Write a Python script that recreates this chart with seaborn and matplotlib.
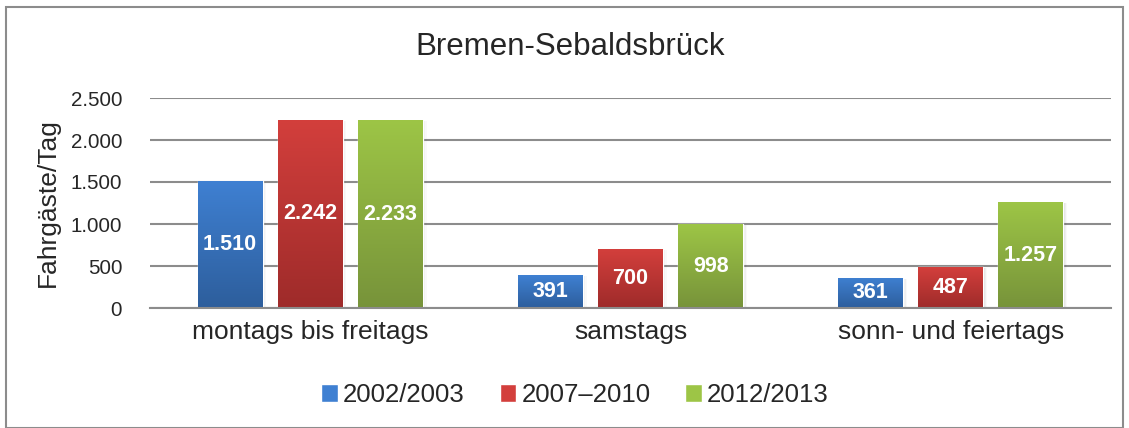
import matplotlib
matplotlib.use("Agg")
import matplotlib.pyplot as plt
import seaborn as sns
import pandas as pd
import numpy as np
from matplotlib.colors import LinearSegmentedColormap
from matplotlib.patches import Rectangle

categories = ["montags bis freitags", "samstags", "sonn- und feiertags"]
series = ["2002/2003", "2007–2010", "2012/2013"]
v2002 = [1510, 391, 361]
v2007 = [2242, 700, 487]
v2012 = [2233, 998, 1257]
value_labels = [["1.510", "391", "361"], ["2.242", "700", "487"], ["2.233", "998", "1.257"]]
yticks = [0, 500, 1000, 1500, 2000, 2500]
ytick_labels = ["0", "500", "1.000", "1.500", "2.000", "2.500"]

top_colors = ["#3f80d2", "#d33f3c", "#9dc546"]
bot_colors = ["#2d5e9c", "#9e2b2a", "#77933a"]

sns.set_style("white")
plt.rcParams["font.family"] = ["Liberation Sans", "DejaVu Sans"]

rows = []
for s, vals in zip(series, [v2002, v2007, v2012]):
    for c, v in zip(categories, vals):
        rows.append({"cat": c, "series": s, "value": v})
df = pd.DataFrame(rows)

fig = plt.figure(figsize=(11.29, 4.28), dpi=100)
ax = fig.add_axes([150 / 1129, 1 - 308 / 428, 961 / 1129, 210 / 428])

sns.barplot(data=df, x="cat", y="value", hue="series", order=categories,
            hue_order=series, palette=top_colors, width=0.75, gap=0.19, ax=ax,
            legend=False, saturation=1, errorbar=None)

ax.set_ylim(0, 2500)
ax.set_xlim(-0.5, 2.5)
ax.set_yticks(yticks)
ax.set_yticklabels(ytick_labels, fontsize=14.8)
ax.yaxis.grid(True, color="#8c8c8c", linewidth=1.5)
ax.set_axisbelow(True)
for sp in ["top", "right", "left"]:
    ax.spines[sp].set_visible(False)
ax.spines["bottom"].set_color("#8c8c8c")
ax.spines["bottom"].set_linewidth(1.5)
ax.tick_params(axis="y", length=0, pad=20)
ax.tick_params(axis="x", length=0, pad=9, labelsize=19)
ax.set_xlabel("")
ax.set_ylabel("Fahrgäste/Tag", fontsize=19, labelpad=8)

patches = [p for p in ax.patches]
for si in range(3):
    cmap = LinearSegmentedColormap.from_list("g", [bot_colors[si], top_colors[si]])
    for ci in range(3):
        p = patches[si * 3 + ci]
        x0, w, h = p.get_x(), p.get_width(), p.get_height()
        for k, a in zip([0.004, 0.008, 0.012], [0.06, 0.04, 0.025]):
            sh = Rectangle((x0 + k, 0), w, max(h - 12, 0), facecolor="#000000", alpha=a,
                           edgecolor="none", zorder=p.get_zorder() - 0.1)
            ax.add_patch(sh)
        grad = np.linspace(0, 1, 256).reshape(-1, 1)
        im = ax.imshow(grad, cmap=cmap, origin="lower", aspect="auto",
                       extent=(x0, x0 + w, 0, h), zorder=p.get_zorder() + 0.1)
        im.set_clip_path(p)
        ax.text(x0 + w / 2, h / 2, value_labels[si][ci], ha="center", va="center",
                color="white", fontsize=15.5, fontweight="bold", zorder=5)
ax.set_xlim(-0.5, 2.5)
ax.set_ylim(0, 2500)

fig.text(570 / 1129, 1 - 47 / 428, "Bremen-Sebaldsbrück", ha="center", va="center", fontsize=22.5)

handles = [Rectangle((0, 0), 1, 1, facecolor=c) for c in top_colors]
fig.legend(handles, series, loc="center", bbox_to_anchor=(575 / 1129, 1 - 395 / 428),
           ncol=3, frameon=False, fontsize=18.5, handlelength=0.65, handleheight=0.65,
           handletextpad=0.2, columnspacing=1.35)

frame = Rectangle((6 / 1129, 0), 1 - 12 / 1129, 1 - 7 / 428, transform=fig.transFigure,
                  fill=False, edgecolor="#8c8c8c", linewidth=1.5)
fig.patches.append(frame)

fig.savefig("out.png", dpi=100)
